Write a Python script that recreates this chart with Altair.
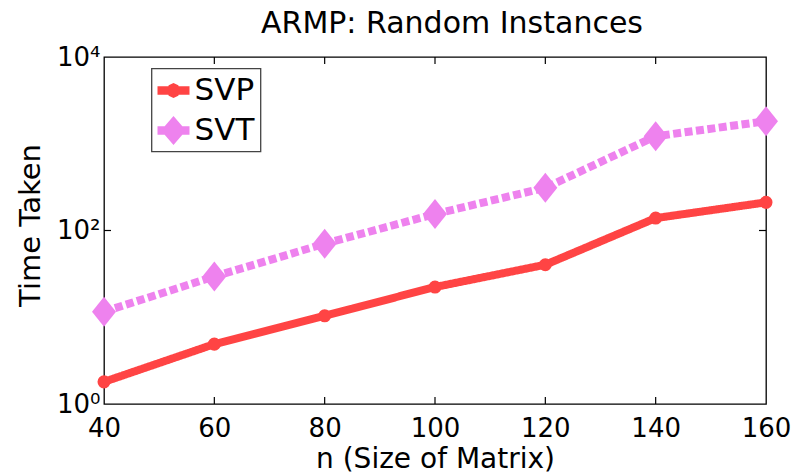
import altair as alt
import pandas as pd

# ---- data ----
n_values = [40, 60, 80, 100, 120, 140, 160]
svp_time = [1.8, 4.9, 10.4, 22.3, 40.3, 139, 211]
svt_time = [11.6, 29.5, 70.4, 155, 311, 1220, 1820]
series_names = ["SVP", "SVT"]
series_colors = ["#FF4444", "#EE82EE"]
x_tick_values = [40, 60, 80, 100, 120, 140, 160]
inner_x_ticks = [60, 80, 100, 120, 140]
y_tick_values = [1, 100, 10000]
y_tick_labels = ["10⁰", "10²", "10⁴"]
inner_y_ticks = [100]

W, H = 662, 347
FONT = "DejaVu Sans"

df = pd.DataFrame({
    "n": n_values * 2,
    "time": svp_time + svt_time,
    "series": [series_names[0]] * len(n_values) + [series_names[1]] * len(n_values),
})
xt = pd.DataFrame({"t": inner_x_ticks})
yt = pd.DataFrame({"v": inner_y_ticks})

label_expr = "".join(
    f"datum.value == {v} ? '{l}' : " for v, l in zip(y_tick_values, y_tick_labels)
) + "''"

x_scale = alt.Scale(domain=[x_tick_values[0], x_tick_values[-1]], nice=False)
y_scale = alt.Scale(type="log", domain=[y_tick_values[0], y_tick_values[-1]], nice=False)
color_scale = alt.Scale(domain=series_names, range=series_colors)

x_axis = alt.Axis(
    values=x_tick_values, title="n (Size of Matrix)", grid=False, domain=False,
    ticks=False, labelPadding=11, labelFontSize=26, labelFont=FONT, labelColor="black",
    labelFlush=False, labelOverlap=False, titleFontSize=28, titleFont=FONT,
    titleFontWeight="normal", titleColor="black", titleY=63, titleBaseline="alphabetic",
)
y_axis = alt.Axis(
    values=y_tick_values, labelExpr=label_expr, title="Time Taken", grid=False,
    domain=False, ticks=False, labelPadding=4, labelFontSize=26, labelFont=FONT,
    labelColor="black", labelFlush=False, labelOverlap=False, titleFontSize=29,
    titleFont=FONT, titleFontWeight="normal", titleColor="black", titleX=-65,
    titleY=168, titleBaseline="alphabetic", titleAngle=270,
)

svp_legend_path = ("M-1,-0.27L1,-0.27L1,0.27L-1,0.27Z "
                   "M0.42,0L0.3,0.33L0,0.47L-0.3,0.33L-0.42,0L-0.3,-0.33L0,-0.47L0.3,-0.33Z")
svt_legend_path = ("M-1,-0.27L1,-0.27L1,0.27L-1,0.27Z "
                   "M0,-0.9L0.78,0L0,0.9L-0.78,0Z")

# legend-only layer (draws no marks): first so its legend settings win
legend_layer = alt.Chart(df).transform_filter("false").mark_point(filled=True, opacity=1).encode(
    x=alt.X("n:Q", scale=x_scale, axis=x_axis),
    y=alt.Y("time:Q", scale=y_scale, axis=y_axis),
    color=alt.Color("series:N", scale=color_scale, legend=alt.Legend(
        orient="none", legendX=47.5, legendY=11.5, title=None,
        labelFont=FONT, labelFontSize=31, labelColor="black",
        symbolSize=1024, symbolStrokeWidth=0, symbolOpacity=1,
        padding=6, rowPadding=9, labelOffset=5,
        strokeColor="#444444", fillColor="white",
    )),
    shape=alt.Shape("series:N", scale=alt.Scale(domain=series_names, range=[svp_legend_path, svt_legend_path])),
)

lines = alt.Chart(df).mark_line(strokeWidth=8).encode(
    x="n:Q", y="time:Q",
    color=alt.Color("series:N", scale=color_scale),
    strokeDash=alt.StrokeDash("series:N", scale=alt.Scale(domain=series_names, range=[[1, 0], [8, 3.5]]), legend=None),
)

svp_pts = alt.Chart(df).transform_filter(alt.datum.series == "SVP").mark_point(
    shape="circle", filled=True, size=170, opacity=1
).encode(
    x="n:Q", y="time:Q",
    color=alt.Color("series:N", scale=color_scale),
)

svt_pts = alt.Chart(df).transform_filter(alt.datum.series == "SVT").mark_point(
    shape="M0,-1L0.8,0L0,1L-0.8,0Z", filled=True, size=900, opacity=1
).encode(
    x="n:Q", y="time:Q",
    color=alt.Color("series:N", scale=color_scale),
)

tick_top = alt.Chart(xt).mark_rule(color="black", strokeWidth=1.2).encode(
    x="t:Q", y=alt.value(0), y2=alt.value(7))
tick_bottom = alt.Chart(xt).mark_rule(color="black", strokeWidth=1.2).encode(
    x="t:Q", y=alt.value(H), y2=alt.value(H - 7))
tick_left = alt.Chart(yt).mark_rule(color="black", strokeWidth=1.2).encode(
    y="v:Q", x=alt.value(0), x2=alt.value(7))
tick_right = alt.Chart(yt).mark_rule(color="black", strokeWidth=1.2).encode(
    y="v:Q", x=alt.value(W - 7), x2=alt.value(W))

chart = alt.layer(
    legend_layer, lines, svp_pts, svt_pts, tick_top, tick_bottom, tick_left, tick_right
).properties(
    width=W, height=H,
    title=alt.TitleParams("ARMP: Random Instances", font=FONT, fontSize=30,
                          fontWeight="normal", color="black", anchor="middle",
                          frame="group", baseline="alphabetic", offset=24, dx=17, dy=43),
    autosize=alt.AutoSizeParams(type="none"),
    padding={"left": 104, "top": 57, "right": 29, "bottom": 72},
).configure(font=FONT, background="white").configure_view(
    stroke="black", strokeWidth=1.3).configure_legend(strokeWidth=1.3)

chart.save("out.html", embed_options={"renderer": "svg", "actions": False})
